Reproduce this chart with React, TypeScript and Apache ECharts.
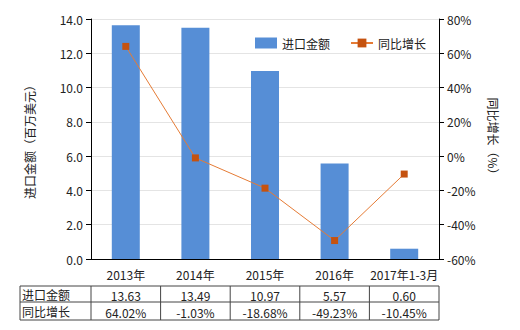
import React, { useEffect, useRef } from "react";
import * as echarts from "echarts";

const categories = ["2013年", "2014年", "2015年", "2016年", "2017年1-3月"];
const importValues = [13.63, 13.49, 10.97, 5.57, 0.6];
const growthValues = [64.02, -1.03, -18.68, -49.23, -10.45];
const importLabels = ["13.63", "13.49", "10.97", "5.57", "0.60"];
const growthLabels = ["64.02%", "-1.03%", "-18.68%", "-49.23%", "-10.45%"];
const rowNames = ["进口金额", "同比增长"];

const FONT = "'Noto Sans CJK SC', 'Noto Sans', sans-serif";

export default function App() {
  const ref = useRef<HTMLDivElement>(null);
  useEffect(() => {
    if (!ref.current) return;
    const chart = echarts.init(ref.current, undefined, { renderer: "svg" });
    const gridLeft = 91;
    const gridRight = 439;
    const colW = (gridRight - gridLeft) / categories.length;
    const tTop = 286;
    const tMid = 302;
    const tBot = 320;
    const tLeft = 20;
    const lineStyle = { stroke: "#444", lineWidth: 1 };
    const graphics: any[] = [];
    graphics.push({ type: "line", shape: { x1: tLeft, y1: tTop, x2: gridRight, y2: tTop }, style: lineStyle });
    graphics.push({ type: "line", shape: { x1: tLeft, y1: tMid, x2: gridRight, y2: tMid }, style: lineStyle });
    graphics.push({ type: "line", shape: { x1: tLeft, y1: tBot, x2: gridRight, y2: tBot }, style: lineStyle });
    graphics.push({ type: "line", shape: { x1: tLeft, y1: tTop, x2: tLeft, y2: tBot }, style: lineStyle });
    for (let i = 0; i <= categories.length; i++) {
      const x = gridLeft + colW * i;
      graphics.push({ type: "line", shape: { x1: x, y1: tTop, x2: x, y2: tBot }, style: lineStyle });
    }
    const rows = [importLabels, growthLabels];
    const rowY = [(tTop + tMid) / 2, (tMid + tBot) / 2];
    rows.forEach((row, r) => {
      graphics.push({
        type: "text",
        x: tLeft + 2,
        y: rowY[r],
        style: { text: rowNames[r], fill: "#222", font: `12px ${FONT}`, textAlign: "left", textVerticalAlign: "middle" },
      });
      row.forEach((t, i) => {
        graphics.push({
          type: "text",
          x: gridLeft + colW * (i + 0.5),
          y: rowY[r] + 1,
          style: { text: t, fill: "#222", font: `12px ${FONT}`, textAlign: "center", textVerticalAlign: "middle" },
        });
      });
    });

    chart.setOption({
      animation: false,
      textStyle: { fontFamily: FONT },
      grid: { left: gridLeft, right: 520 - gridRight, top: 19, bottom: 71 },
      legend: {
        top: 32,
        left: 250,
        itemWidth: 22,
        itemHeight: 11,
        itemGap: 20,
        textStyle: { fontSize: 12, color: "#222" },
        data: [
          { name: "进口金额", icon: "rect" },
          { name: "同比增长" },
        ],
      },
      xAxis: {
        type: "category",
        data: categories,
        axisLine: { lineStyle: { color: "#000" } },
        axisTick: { alignWithLabel: true, lineStyle: { color: "#000" } },
        axisLabel: { color: "#222", fontSize: 12, margin: 9, interval: 0 },
      },
      yAxis: [
        {
          type: "value",
          min: 0,
          max: 14,
          interval: 2,
          name: "进口金额（百万美元）",
          nameLocation: "middle",
          nameGap: 56,
          nameRotate: 90,
          nameTextStyle: { fontSize: 12, color: "#222" },
          axisLine: { show: true, lineStyle: { color: "#000" } },
          axisTick: { show: true, lineStyle: { color: "#000" } },
          axisLabel: { color: "#222", fontSize: 12, formatter: (v: number) => v.toFixed(1) },
          splitLine: { lineStyle: { color: "#e4e4e4" } },
        },
        {
          type: "value",
          min: -60,
          max: 80,
          interval: 20,
          name: "同比增长（%）",
          nameLocation: "middle",
          nameGap: 48,
          nameRotate: -90,
          nameTextStyle: { fontSize: 12, color: "#222" },
          axisLine: { show: true, lineStyle: { color: "#000" } },
          axisTick: { show: true, lineStyle: { color: "#000" } },
          axisLabel: { color: "#222", fontSize: 12, formatter: "{value}%" },
          splitLine: { show: false },
        },
      ],
      series: [
        {
          name: "进口金额",
          type: "bar",
          data: importValues,
          barWidth: 28,
          itemStyle: { color: "#568ed6" },
        },
        {
          name: "同比增长",
          type: "line",
          yAxisIndex: 1,
          data: growthValues,
          symbol: "rect",
          symbolSize: 7,
          itemStyle: { color: "#c5520f" },
          lineStyle: { color: "#e57b35", width: 1 },
        },
      ],
      graphic: graphics,
    });
    return () => chart.dispose();
  }, []);
  return <div ref={ref} style={{ position: "absolute", left: 0, top: 0, width: 520, height: 330 }} />;
}
